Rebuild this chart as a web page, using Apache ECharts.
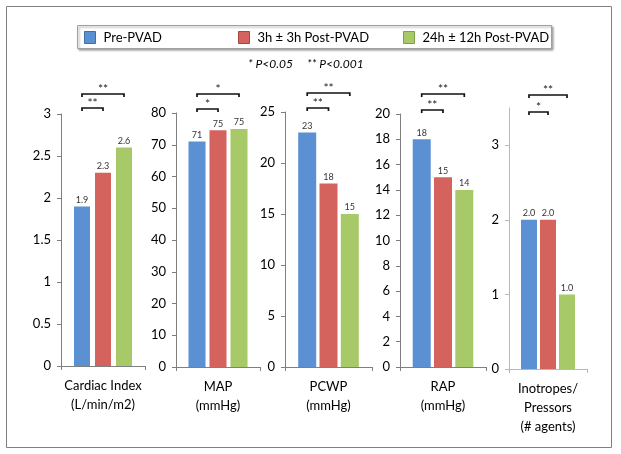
<!DOCTYPE html>
<html>
<head>
<meta charset="utf-8">
<script src="https://cdn.jsdelivr.net/npm/echarts@6/dist/echarts.min.js"></script>
<style>html,body{margin:0;padding:0;background:#fff}#c{width:621px;height:454px}</style>
</head>
<body>
<div id="c"></div>
<script>
// ---- data ----
const categories = ['Cardiac Index\n(L/min/m2)', 'MAP\n(mmHg)', 'PCWP\n(mmHg)', 'RAP\n(mmHg)', 'Inotropes/\nPressors\n(# agents)'];
const seriesNames = ['Pre-PVAD', '3h ± 3h Post-PVAD', '24h ± 12h Post-PVAD'];
const preValues = [1.9, 71, 23, 18, 2.0];
const post3hValues = [2.3, 74.6, 18, 15, 2.0];
const post24hValues = [2.6, 75, 15, 14, 1.0];
const yMax = [3, 80, 25, 20, 3.5];
const yInterval = [0.5, 10, 5, 2, 1];
const labelDecimals = [1, 0, 0, 0, 1];
// significance brackets per panel: [fromBar, toBar, stars]
const brackets = [
  [[0, 1, '**'], [0, 2, '**']],
  [[0, 1, '*'], [0, 2, '*']],
  [[0, 1, '**'], [0, 2, '**']],
  [[0, 1, '**'], [0, 2, '**']],
  [[0, 1, '*'], [0, 2, '**']]
];
const subtitle = '* P<0.05     ** P<0.001';

// ---- style / layout ----
const colors = ['#5B90D3', '#D4635D', '#A8C968'];
const legendBorders = ['#3E6FA8', '#A8443F', '#80A048'];
const gridLayout = [
  {left: 61, width: 84, top: 114, height: 252},
  {left: 176, width: 84, top: 113, height: 254},
  {left: 285, width: 87, top: 112, height: 255},
  {left: 400, width: 86, top: 114, height: 253},
  {left: 509, width: 78, top: 108, height: 261}
];
const barW = [16, 17, 18, 18, 16];
const barGapPx = [5, 4, 3.3, 3.3, 3];
const bracketOffsets = [[6, 20], [4, 19], [4, 19], [4, 20], [-4, 13]];
const axisColors = ['#7f7f7f', '#7f7f7f', '#7f7f7f', '#7f7f7f', '#b8b8b8'];
const FONT = 'Lato, "Liberation Sans", sans-serif';
const values = [preValues, post3hValues, post24hValues];

const grids = [], xAxes = [], yAxes = [], series = [];
for (let p = 0; p < 5; p++) {
  grids.push(Object.assign({containLabel: false}, gridLayout[p]));
  xAxes.push({
    gridIndex: p, type: 'category', data: [categories[p]],
    axisLine: {lineStyle: {color: axisColors[p], width: 1}},
    axisTick: {show: true, length: 4, lineStyle: {color: axisColors[p]}},
    axisLabel: {interval: 0, fontSize: 13, lineHeight: 19, color: '#000', margin: 10, fontFamily: FONT}
  });
  const yax = {
    gridIndex: p, type: 'value', min: 0, max: yMax[p], interval: yInterval[p],
    splitLine: {show: false},
    axisLine: {show: true, lineStyle: {color: axisColors[p], width: 1}},
    axisTick: {show: true, length: 4, lineStyle: {color: axisColors[p]}},
    axisLabel: {fontSize: 13, color: '#000', margin: 10, fontFamily: FONT}
  };
  if (p === 4) {
    yax.axisLabel.customValues = [0, 1, 2, 3];
    yax.axisTick.customValues = [0, 1, 2, 3];
  }
  yAxes.push(yax);
  for (let s = 0; s < 3; s++) {
    series.push({
      type: 'bar', name: seriesNames[s], xAxisIndex: p, yAxisIndex: p,
      data: [values[s][p]],
      barWidth: barW[p], barGap: (barGapPx[p] / barW[p] * 100) + '%',
      itemStyle: {color: colors[s]},
      label: {
        show: true, position: 'top', distance: 2, fontSize: 9, color: '#333', fontFamily: FONT,
        formatter: (function (d) { return function (v) { return Number(v.value).toFixed(d); }; })(labelDecimals[p])
      }
    });
  }
  (function (p) {
    series.push({
      type: 'custom', name: 'sig' + p, xAxisIndex: p, yAxisIndex: p, clip: false, silent: true, z: 5,
      data: brackets[p].map(function (b) { return [0, b[0], b[1]]; }),
      encode: {x: 0, y: 1},
      renderItem: function (params, api) {
        const b = brackets[p][params.dataIndex];
        const cx = api.coord([0, 0])[0];
        const step = barW[p] + barGapPx[p];
        const x1 = cx + (b[0] - 1) * step, x2 = cx + (b[1] - 1) * step;
        const y = params.coordSys.y - bracketOffsets[p][params.dataIndex];
        return {
          type: 'group',
          children: [
            {type: 'polyline', shape: {points: [[x1, y + 3], [x1, y], [x2, y], [x2, y + 3]]},
             style: {stroke: '#111', lineWidth: 1.7, fill: null}},
            {type: 'text', style: {text: b[2], x: (x1 + x2) / 2, y: y + 1, align: 'center', verticalAlign: 'bottom',
             fontSize: 12, fill: '#222', fontFamily: FONT}}
          ]
        };
      }
    });
  })(p);
}

const legendLeft = [84, 238, 403];
const legends = seriesNames.map(function (n, i) {
  return {
    data: [n], left: legendLeft[i], top: 31, padding: 0, itemGap: 0, itemWidth: 11, itemHeight: 12,
    icon: 'rect', selectedMode: false, z: 10,
    itemStyle: {borderColor: legendBorders[i], borderWidth: 1},
    textStyle: {fontSize: 13, color: '#000', fontFamily: FONT, padding: [0, 0, 0, 3]}
  };
});

const chart = echarts.init(document.getElementById('c'), null, {renderer: 'canvas'});
chart.setOption({
  animation: false,
  backgroundColor: '#fff',
  title: {text: subtitle, left: 248, top: 58, padding: 0,
    textStyle: {fontSize: 12, fontStyle: 'italic', fontWeight: 'normal', color: '#000', fontFamily: FONT}},
  legend: legends,
  graphic: [
    {type: 'rect', z: 0, shape: {x: 6.5, y: 6.5, width: 605, height: 441}, style: {fill: 'none', stroke: '#808080', lineWidth: 1}},
    {type: 'rect', z: 1, shape: {x: 77.5, y: 25.5, width: 474, height: 23},
     style: {fill: '#fff', stroke: '#a0a0a0', lineWidth: 1, shadowBlur: 2, shadowOffsetX: 1.5, shadowOffsetY: 1.5, shadowColor: 'rgba(0,0,0,0.35)'}}
  ],
  grid: grids,
  xAxis: xAxes,
  yAxis: yAxes,
  series: series
});
</script>
</body>
</html>
